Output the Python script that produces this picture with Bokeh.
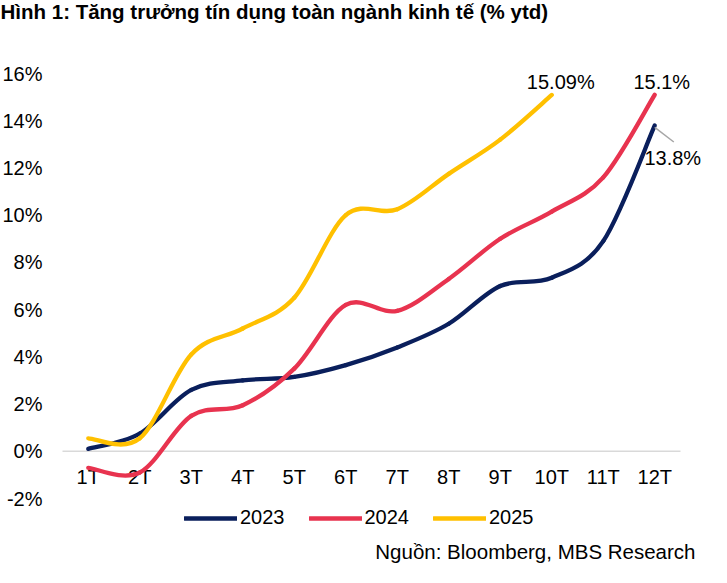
from bokeh.plotting import figure
from bokeh.models import Range1d, Label, Legend, LegendItem, ColumnDataSource
from bokeh.core.properties import value
from bokeh.embed import file_html
from bokeh.resources import INLINE

months = ["1T", "2T", "3T", "4T", "5T", "6T", "7T", "8T", "9T", "10T", "11T", "12T"]
y2023 = [0.1, 0.75, 2.6, 3.0, 3.15, 3.65, 4.4, 5.4, 7.0, 7.35, 8.9, 13.8]
y2024 = [-0.7, -0.9, 1.5, 1.95, 3.5, 6.2, 5.95, 7.3, 9.0, 10.15, 11.6, 15.1]
y2025 = [0.55, 0.55, 4.1, 5.2, 6.5, 10.0, 10.25, 11.75, 13.2, 15.09]
y_ticks = [-2, 0, 2, 4, 6, 8, 10, 12, 14, 16]
y_tick_labels = [f"{t}%" for t in y_ticks]

series = [("2023", y2023, "#0A1F5C"), ("2024", y2024, "#E8334F"), ("2025", y2025, "#FFC000")]

FONT = "Liberation Sans"
W, H = 711, 567
# plot area (inside canvas), in pixels
PL, PR, PT, PB = 62, 680, 73, 498
YMIN, YMAX = -2, 16
XMIN, XMAX = 0.5, len(months) + 0.5
xpx = (PR - PL) / (XMAX - XMIN)
ypx = (PB - PT) / (YMAX - YMIN)

p = figure(width=W, height=H, output_backend="svg", toolbar_location=None,
           x_range=Range1d(XMIN - PL / xpx, XMAX + (W - PR) / xpx),
           y_range=Range1d(YMIN - (H - PB) / ypx, YMAX + PT / ypx),
           min_border=0, min_border_left=0, min_border_right=0,
           min_border_top=0, min_border_bottom=0)
p.outline_line_color = None
p.grid.visible = False
p.axis.visible = False
p.background_fill_color = "white"
p.border_fill_color = "white"

# zero line
p.segment(x0=[XMIN], y0=[0], x1=[XMAX], y1=[0], line_color="#D9D9D9", line_width=1.5)

# y tick labels
p.text(x=[XMIN] * len(y_ticks), y=y_ticks, text=y_tick_labels, x_offset=-20,
       text_align="right", text_baseline="middle",
       text_font=value(FONT), text_font_size="20px", text_color="black")

# x category labels
xs = list(range(1, len(months) + 1))
p.text(x=xs, y=[-1.08] * len(xs), text=months, text_align="center", text_baseline="middle",
       text_font=value(FONT), text_font_size="20px", text_color="black")


def bezier_segments(ys):
    n = len(ys)
    pts = [(i + 1, ys[i]) for i in range(n)]
    d = dict(x0=[], y0=[], x1=[], y1=[], cx0=[], cy0=[], cx1=[], cy1=[])
    for i in range(n - 1):
        p0 = pts[i - 1] if i > 0 else pts[i]
        p1 = pts[i]
        p2 = pts[i + 1]
        p3 = pts[i + 2] if i + 2 < n else pts[i + 1]
        d["x0"].append(p1[0]); d["y0"].append(p1[1])
        d["x1"].append(p2[0]); d["y1"].append(p2[1])
        d["cx0"].append(p1[0] + (p2[0] - p0[0]) / 6.0)
        d["cy0"].append(p1[1] + (p2[1] - p0[1]) / 6.0)
        d["cx1"].append(p2[0] - (p3[0] - p1[0]) / 6.0)
        d["cy1"].append(p2[1] - (p3[1] - p1[1]) / 6.0)
    return ColumnDataSource(d)


items = []
for name, ys, col in series:
    r = p.bezier(x0="x0", y0="y0", x1="x1", y1="y1", cx0="cx0", cy0="cy0", cx1="cx1", cy1="cy1",
                 source=bezier_segments(ys), line_color=col, line_width=4.3, line_cap="round")
    items.append(LegendItem(label=name, renderers=[r]))

legend = Legend(items=items, orientation="horizontal", location=(184, 38),
                glyph_width=53, glyph_height=20, label_standoff=3, spacing=24,
                padding=0, margin=0, border_line_color=None, background_fill_alpha=0,
                label_text_font=FONT, label_text_font_size="20px", label_text_color="black",
                label_height=20)
p.add_layout(legend, "center")

# data labels
lab_kw = dict(text_align="center", text_baseline="middle",
              text_font=FONT, text_font_size="20px", text_color="black")
p.add_layout(Label(x=len(y2025), y=y2025[-1], text="15.09%", x_offset=9, y_offset=13, **lab_kw))
p.add_layout(Label(x=len(y2024), y=y2024[-1], text="15.1%", x_offset=7, y_offset=13, **lab_kw))
p.add_layout(Label(x=len(y2023), y=y2023[-1], text="13.8%", x_offset=18, y_offset=-33, **lab_kw))
p.segment(x0=[len(y2023)], y0=[y2023[-1] - 0.08], x1=[len(y2023) + 0.37], y1=[y2023[-1] - 0.7],
          line_color="#A6A6A6", line_width=1.5)

# title & source
p.add_layout(Label(x=0, y=H - 11, x_units="screen", y_units="screen",
                   text="Hình 1: Tăng trưởng tín dụng toàn ngành kinh tế (% ytd)",
                   text_align="left", text_baseline="middle",
                   text_font=FONT, text_font_size="20.5px", text_font_style="bold",
                   text_color="black"))
p.add_layout(Label(x=695, y=16, x_units="screen", y_units="screen",
                   text="Nguồn: Bloomberg, MBS Research",
                   text_align="right", text_baseline="middle",
                   text_font=FONT, text_font_size="20.5px", text_color="black"))

open("out.html", "w").write(file_html(p, INLINE))
